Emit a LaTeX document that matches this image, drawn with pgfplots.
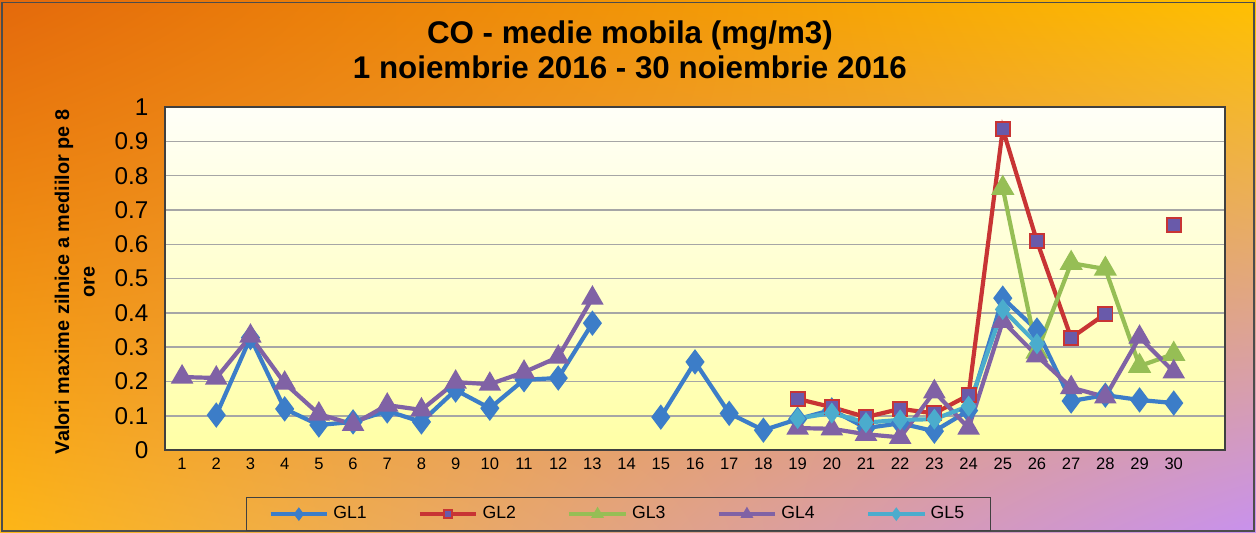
\documentclass[border=0pt]{standalone}
\usepackage{fontspec}
\setmainfont{Liberation Sans}
\usepackage{pgfplots}
\pgfplotsset{compat=1.18}
\usetikzlibrary{calc,shadings}

\definecolor{cGLa}{RGB}{60,125,200}
\definecolor{cGLb}{RGB}{200,52,52}
\definecolor{cGLbfill}{RGB}{105,90,170}
\definecolor{cGLc}{RGB}{150,190,85}
\definecolor{cGLd}{RGB}{128,98,165}
\definecolor{cGLe}{RGB}{75,172,205}
\definecolor{bgTL}{RGB}{228,105,12}
\definecolor{bgTR}{RGB}{255,192,0}
\definecolor{bgBL}{RGB}{253,182,22}
\definecolor{bgBR}{RGB}{200,145,238}
\definecolor{plotTop}{RGB}{255,255,248}
\definecolor{plotBot}{RGB}{255,255,165}

\begin{document}
\begin{tikzpicture}

% background of the whole chart
\shade[upper left=bgTL, upper right=bgTR, lower left=bgBL, lower right=bgBR]
  (0,0) rectangle (20cm,8.487cm);
\draw[black!70, line width=0.6pt] (0.03cm,0.03cm) rectangle (19.97cm,8.45cm);

\node[font=\bfseries\fontsize{14.2}{16}\selectfont] at (10.03cm,7.93cm) {CO - medie mobila (mg/m3)};
\node[font=\bfseries\fontsize{14.2}{16}\selectfont] at (10.03cm,7.41cm) {1 noiembrie 2016 - 30 noiembrie 2016};

\node[rotate=90, align=center, font=\bfseries\fontsize{9}{11.5}\selectfont]
  at (1.19cm,4.0cm) {Valori maxime zilnice a mediilor pe 8\\ore};

\begin{axis}[
    at={(2.627cm,1.321cm)}, anchor=south west,
    scale only axis,
    width=16.88cm, height=5.46cm,
    xmin=0.5, xmax=31.5,
    ymin=0, ymax=1,
    xtick={1,...,30},
    ytick={0,0.1,...,1.01},
    yticklabels={0,0.1,0.2,0.3,0.4,0.5,0.6,0.7,0.8,0.9,1},
    /pgf/number format/assume math mode=true,
    xticklabel style={font=\fontsize{7.5}{9}\selectfont},
    yticklabel style={font=\fontsize{11}{12}\selectfont, xshift=-4pt},
    major tick length=0pt,
    ymajorgrids,
    grid style={gray!70, line width=0.7pt},
    axis line style={black!75, line width=0.7pt},
    axis background/.style={shade, top color=plotTop, bottom color=plotBot},
    unbounded coords=jump,
    every axis plot/.append style={line width=1.9pt},
    legend columns=5,
    legend style={at={(0.428,-0.187)}, anchor=center, fill=none,
      draw=black!75, line width=0.6pt,
      font=\fontsize{8}{9}\selectfont,
      /tikz/every even column/.append style={column sep=0.75cm},
      inner xsep=10pt, inner ysep=2pt},
    legend image code/.code={%
      \draw[line width=1.6pt, mark size=1.8pt, mark repeat=2, mark phase=2]
        plot coordinates {(0cm,0cm) (0.45cm,0cm) (0.9cm,0cm)};},
]

\addplot[color=cGLa, mark=diamond*, mark size=4.2pt, mark options={fill=cGLa}] coordinates {
 (1,nan) (2,0.102) (3,0.328) (4,0.12) (5,0.073) (6,0.082) (7,0.114) (8,0.082)
 (9,0.175) (10,0.122) (11,0.205) (12,0.21) (13,0.37) (14,nan) (15,0.096)
 (16,0.257) (17,0.107) (18,0.058) (19,0.09) (20,0.117) (21,0.064) (22,0.078)
 (23,0.055) (24,0.115) (25,0.443) (26,0.35) (27,0.143) (28,0.16) (29,0.146) (30,0.137)
};
\addlegendentry{GL1}

\addplot[color=cGLb, mark=square*, mark size=3.2pt, mark options={fill=cGLbfill, draw=cGLb, line width=0.8pt}] coordinates {
 (19,0.149) (20,0.125) (21,0.096) (22,0.12) (23,0.107) (24,0.16) (25,0.936)
 (26,0.609) (27,0.327) (28,0.397) (29,nan) (30,0.656)
};
\addlegendentry{GL2}

\addplot[color=cGLc, mark=triangle*, mark size=4.2pt, mark options={fill=cGLc}] coordinates {
 (25,0.764) (26,0.286) (27,0.545) (28,0.528) (29,0.245) (30,0.28)
};
\addlegendentry{GL3}

\addplot[color=cGLd, mark=triangle*, mark size=4pt, mark options={fill=cGLd}] coordinates {
 (1,0.213) (2,0.21) (3,0.332) (4,0.195) (5,0.105) (6,0.075) (7,0.131) (8,0.117)
 (9,0.198) (10,0.192) (11,0.227) (12,0.271) (13,0.443) (14,nan)
 (19,0.064) (20,0.062) (21,0.046) (22,0.037) (23,0.17) (24,0.064)
 (25,0.375) (26,0.275) (27,0.182) (28,0.155) (29,0.329) (30,0.228)
};
\addlegendentry{GL4}

\addplot[color=cGLe, mark=diamond*, mark size=3.2pt, mark options={fill=cGLe}] coordinates {
 (19,0.092) (20,0.108) (21,0.08) (22,0.088) (23,0.09) (24,0.128) (25,0.41) (26,0.31)
};
\addlegendentry{GL5}

\end{axis}
\end{tikzpicture}
\end{document}
